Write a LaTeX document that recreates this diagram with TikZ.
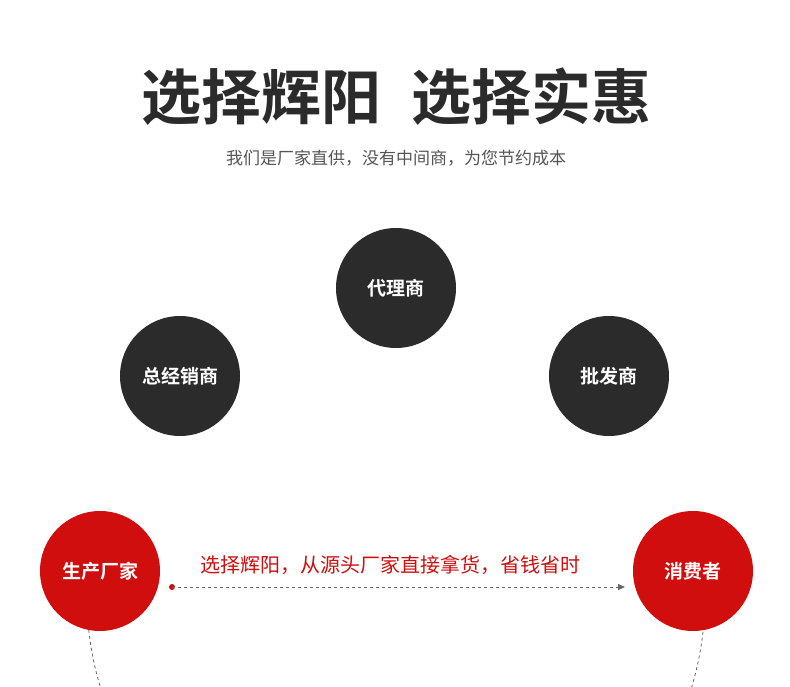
\documentclass[tikz,border=0pt]{standalone}
\usepackage{fontspec}
\newfontfamily\cjk{Noto Sans CJK SC}
\newfontfamily\cjkb{Noto Sans CJK SC Bold}
\usetikzlibrary{arrows.meta}
\definecolor{dk}{HTML}{2B2B2B}
\definecolor{rd}{HTML}{D00E0E}
\definecolor{gy}{HTML}{555555}
\tikzset{
 ball/.style={circle,minimum size=120pt,inner sep=0pt,text=white,font=\cjkb\fontsize{19}{19}\selectfont},
 darkball/.style={ball,fill=dk},
 redball/.style={ball,fill=rd},
}
\begin{document}
\begin{tikzpicture}[x=1pt,y=-1pt]
\useasboundingbox[fill=white] (0,0) rectangle (790,687);
\node (title) at (396,97) {\cjkb\fontsize{60}{60}\selectfont\color{dk}选择辉阳\hspace{0.5em}选择实惠};
\node (sub) at (396,158) {\cjk\fontsize{17}{17}\selectfont\color{gy}我们是厂家直供，没有中间商，为您节约成本};
\coordinate (arcc) at (396,597);
\draw[dashed,gray!80!black,line width=0.8pt] (396,597) ++(175:309) arc[start angle=175,end angle=5,radius=309];
\node[darkball] (a) at (396,288) {代理商};
\node[darkball] (b) at (180,376) {总经销商};
\node[darkball] (c) at (609,376) {批发商};
\node[redball] (d) at (100,571) {生产厂家};
\node[redball] (e) at (693,571) {消费者};
\fill[rd] (172,587) circle (3pt) coordinate (dot);
\coordinate (tip) at (625,587);
\draw[dashed,gray!80!black,line width=0.8pt,-{Triangle[length=7pt,width=6pt]}] (dot) -- (tip);
\node (lbl) at (390,565) {\cjk\fontsize{20}{20}\selectfont\color{rd}选择辉阳，从源头厂家直接拿货，省钱省时};
\end{tikzpicture}
\end{document}
